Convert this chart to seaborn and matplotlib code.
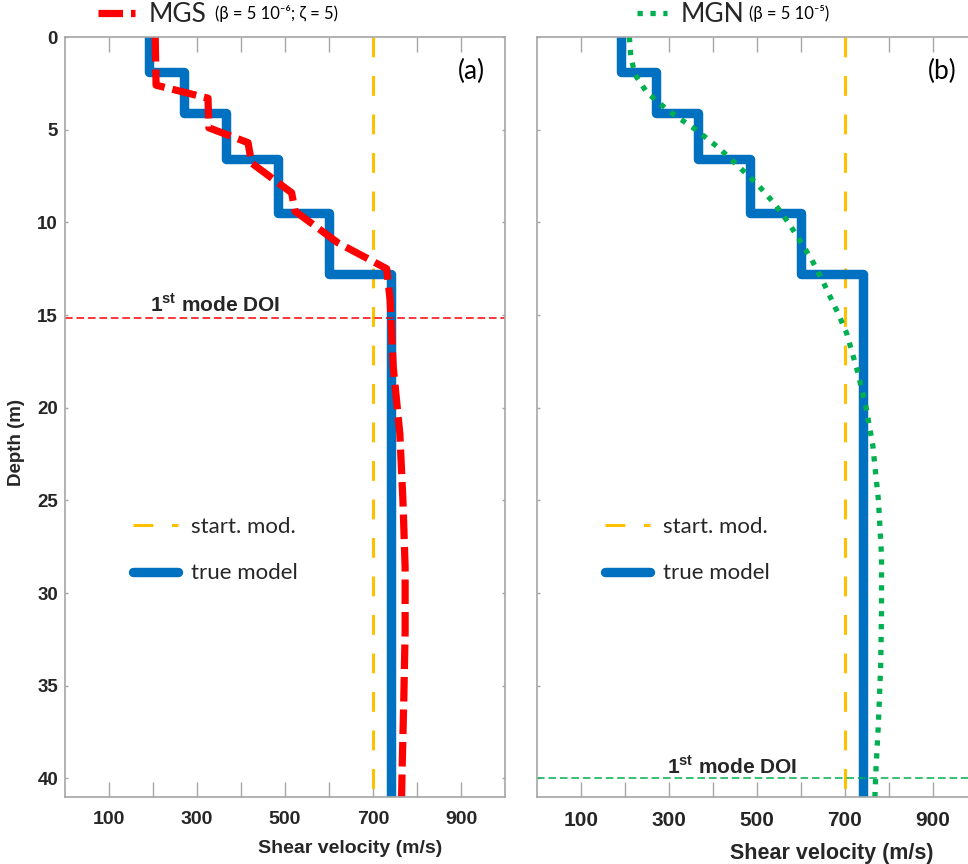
import numpy as np
import matplotlib.pyplot as plt
import seaborn as sns

# true model: layer velocities (m/s) and layer interfaces (m)
true_vs = [190, 270, 365, 485, 600, 740]
true_interfaces = [1.9, 4.1, 6.6, 9.5, 12.8]
max_depth = 41
start_vs = 700

# MGS result (panel a)
mgs_vs = [205, 207, 325, 327, 416, 424, 515, 523, 620, 731, 739, 746, 761, 768, 773, 773, 770, 766, 765]
mgs_depth = [0, 2.6, 3.3, 4.9, 5.7, 6.8, 8.4, 9.4, 11.1, 12.5, 14.2, 17.8, 21.4, 25, 28.6, 32.1, 35.7, 39.7, 41]

# MGN result (panel b)
mgn_vs = [210, 213, 222, 250, 300, 361, 414, 459, 503, 540, 571, 598, 624, 646, 666, 686, 704,
          728, 748, 763, 776, 783, 783, 781, 776, 770, 768]
mgn_depth = [0, 1, 2, 3, 4, 5, 6, 7, 8, 9, 10, 11, 12, 13, 14, 15, 16,
             18, 20, 22, 25, 28, 31, 34, 37, 39.7, 41]

doi_a = 15.15
doi_b = 40.0

xticks = [100, 200, 300, 400, 500, 600, 700, 800, 900]
xtick_labels = ['100', '', '300', '', '500', '', '700', '', '900']
yticks = [0, 5, 10, 15, 20, 25, 30, 35, 40]

c_true = '#0070C0'
c_start = '#FFC000'
c_mgs = '#FF0000'
c_mgn = '#00B050'
c_spine = '#A6A6A6'
c_text = '#262626'

sns.set_theme(style='white')
plt.rcParams['font.family'] = ['Liberation Sans', 'DejaVu Sans']
plt.rcParams['mathtext.fontset'] = 'custom'
plt.rcParams['mathtext.bf'] = 'Liberation Sans:bold'
plt.rcParams['mathtext.rm'] = 'Liberation Sans'
calibri = ['Lato', 'DejaVu Sans']

# step profile of the true model
tops = [0] + true_interfaces
bottoms = true_interfaces + [max_depth]
true_x = np.repeat(true_vs, 2)
true_y = np.column_stack([tops, bottoms]).ravel()

fig = plt.figure(figsize=(9.68, 8.64), dpi=100)
W, H = 968, 864
ax_a = fig.add_axes([65 / W, 1 - 797 / H, 440 / W, 760 / H])
ax_b = fig.add_axes([537 / W, 1 - 797 / H, 440 / W, 760 / H])


def base_panel(ax, xl_size, tick_size):
    sns.lineplot(x=[start_vs, start_vs], y=[0, max_depth], sort=False, estimator=None,
                 color=c_start, lw=2.2, linestyle=(0, (6.5, 6.1)), ax=ax,
                 label='start. mod.')
    sns.lineplot(x=true_x, y=true_y, sort=False, estimator=None, color=c_true, lw=6.8,
                 ax=ax, label='true model')
    ax.set_xlim(0, 1000)
    ax.set_ylim(max_depth, 0)
    ax.set_xticks(xticks)
    ax.set_xticklabels(xtick_labels)
    ax.set_yticks(yticks)
    for s in ax.spines.values():
        s.set_color(c_spine)
        s.set_linewidth(1.2)
    ax.tick_params(axis='x', direction='in', length=11, width=1, color=c_spine,
                   top=True, bottom=True, labelsize=tick_size, labelcolor=c_text, pad=10)
    ax.tick_params(axis='y', direction='in', length=2.5, width=1, color=c_spine,
                   left=True, right=True, labelsize=13.5, labelcolor=c_text, pad=5)
    for lbl in ax.get_xticklabels() + ax.get_yticklabels():
        lbl.set_fontweight('bold')
    ax.set_xlabel('Shear velocity (m/s)', fontsize=xl_size, fontweight='bold', color=c_text)
    ax.set_ylabel('')


base_panel(ax_a, 14, 14)
base_panel(ax_b, 15.5, 15)

# inversion results
sns.lineplot(x=mgs_vs, y=mgs_depth, sort=False, estimator=None, color=c_mgs, lw=5.2,
             linestyle=(0, (3.4, 1.1)), ax=ax_a, label='MGS')
sns.lineplot(x=mgn_vs, y=mgn_depth, sort=False, estimator=None, color=c_mgn, lw=3.8,
             linestyle=(0, (1, 1.45)), ax=ax_b, label='MGN')

# depth of investigation
ax_a.axhline(doi_a, color=c_mgs, lw=1.1, linestyle=(0, (5, 2.5)))
ax_b.axhline(doi_b, color=c_mgn, lw=1.1, linestyle=(0, (5, 2.5)))
ax_a.text(341, 14.45, r'1$^{\mathbf{st}}$ mode DOI', ha='center', va='center',
          fontsize=15, fontweight='bold', color=c_text)
ax_b.text(443, 39.35, r'1$^{\mathbf{st}}$ mode DOI', ha='center', va='center',
          fontsize=15, fontweight='bold', color=c_text)

ax_b.set_yticklabels([])
ax_a.set_ylabel('Depth (m)', fontsize=13.5, fontweight='bold', color=c_text)
ax_a.yaxis.set_label_coords(-0.09, 0.467)
ax_a.xaxis.set_label_coords(0.648, -0.057)
ax_b.xaxis.set_label_coords(0.67, -0.06)

# legends
for ax, top_x, top_len, param_x, params in [
        (ax_a, 0.075, 1.4, 0.34, '(β = 5 10⁻⁶; ζ = 5)'),
        (ax_b, 0.227, 1.15, 0.482, '(β = 5 10⁻⁵)')]:
    h, l = ax.get_legend_handles_labels()
    top = ax.legend(h[2:], l[2:], loc='center left', bbox_to_anchor=(top_x, 1.029),
                    frameon=False, borderpad=0, borderaxespad=0, handlelength=top_len,
                    handletextpad=0.5, prop=dict(family=calibri, size=19))
    ax.add_artist(top)
    ax.text(param_x, 1.031, params, transform=ax.transAxes, ha='left', va='center',
            fontsize=12, family=calibri, color='black')
    ax.legend(h[:2], l[:2], loc='center left', bbox_to_anchor=(0.155, 0.325),
              frameon=False, borderpad=0, borderaxespad=0, handlelength=2.0,
              handletextpad=0.6, labelspacing=1.2, prop=dict(family=calibri, size=16))

ax_a.text(0.923, 0.955, '(a)', transform=ax_a.transAxes, ha='center', va='center',
          fontsize=19, family=calibri, color='black')
ax_b.text(0.92, 0.955, '(b)', transform=ax_b.transAxes, ha='center', va='center',
          fontsize=19, family=calibri, color='black')

fig.savefig('out.png', dpi=100)
